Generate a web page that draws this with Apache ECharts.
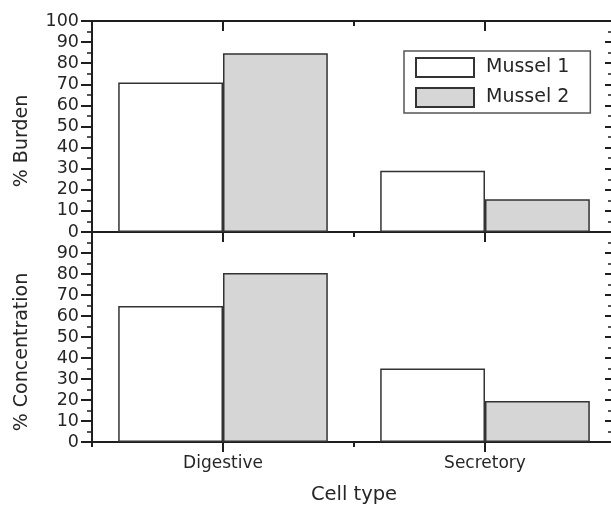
<!DOCTYPE html>
<html>
<head>
<meta charset="utf-8">
<script src="https://cdn.jsdelivr.net/npm/echarts@6/dist/echarts.min.js"></script>
<style>html,body{margin:0;padding:0;background:#fff;overflow:hidden;}#c{width:620px;height:506px;}</style>
</head>
<body>
<div id="c"></div>
<script>
const categories = ['Digestive', 'Secretory'];
const seriesNames = ['Mussel 1', 'Mussel 2'];
const burdenMussel1 = [70.8, 29.0];
const burdenMussel2 = [84.7, 15.5];
const concMussel1 = [64.8, 35.0];
const concMussel2 = [80.5, 19.5];
const yMin = 0, yMax = 100, yStep = 10;
const xTitle = 'Cell type';
const yTitleTop = '% Burden';
const yTitleBottom = '% Concentration';

const FONT = 'DejaVu Sans';
const INK = '#1e1e1e';
const TXT = '#262626';

const chart = echarts.init(document.getElementById('c'), null, {renderer: 'canvas'});

function xAxis(grid, pos, opts) {
  return Object.assign({
    type: 'category', gridIndex: grid, position: pos, data: categories,
    boundaryGap: true,
    axisLine: {show: false, lineStyle: {color: INK, width: 2}},
    axisTick: {show: true, alignWithLabel: true, interval: 0, length: 10, inside: false, lineStyle: {color: INK, width: 2}},
    axisLabel: {show: false},
    splitLine: {show: false}
  }, opts);
}
function yAxis(grid, pos, opts) {
  return Object.assign({
    type: 'value', gridIndex: grid, position: pos, min: yMin, max: yMax, interval: yStep,
    axisLine: {show: true, lineStyle: {color: INK, width: 2}},
    axisTick: {show: true, length: 11, inside: false, lineStyle: {color: INK, width: 2}},
    minorTick: {show: true, splitNumber: 2, length: 5, lineStyle: {color: INK, width: 1.5}},
    axisLabel: {show: false},
    splitLine: {show: false}, minorSplitLine: {show: false}
  }, opts);
}
const labelStyle = {show: true, fontFamily: FONT, fontSize: 17.5, color: TXT};

const option = {
  animation: false,
  backgroundColor: '#fff',
  grid: [
    {left: 92, top: 21, width: 524, height: 211},
    {left: 92, top: 232, width: 524, height: 212}
  ],
  xAxis: [
    xAxis(0, 'bottom', {axisLine: {show: true, lineStyle: {color: INK, width: 2}}}),
    xAxis(0, 'bottom', {axisTick: {show: true, alignWithLabel: false, interval: 0, length: 5, lineStyle: {color: INK, width: 2}}}),
    xAxis(0, 'top', {axisLine: {show: true, lineStyle: {color: INK, width: 2}},
      axisTick: {show: true, alignWithLabel: true, interval: 0, length: 10, inside: true, lineStyle: {color: INK, width: 2}}}),
    xAxis(0, 'top', {axisTick: {show: true, alignWithLabel: false, interval: 0, length: 5, inside: true, lineStyle: {color: INK, width: 2}}}),
    xAxis(1, 'bottom', {axisLine: {show: true, lineStyle: {color: INK, width: 2}},
      axisLabel: Object.assign({margin: 13, interval: 0}, labelStyle, {fontSize: 17}),
      name: xTitle, nameLocation: 'middle', nameGap: 43,
      nameTextStyle: {fontFamily: FONT, fontSize: 19.5, color: TXT}}),
    xAxis(1, 'bottom', {axisTick: {show: true, alignWithLabel: false, interval: 0, length: 5, lineStyle: {color: INK, width: 2}}})
  ],
  yAxis: [
    yAxis(0, 'left', {axisLabel: Object.assign({margin: 13}, labelStyle)}),
    yAxis(0, 'right', {axisLine: {show: false},
      axisTick: {show: true, length: 11, inside: true, lineStyle: {color: INK, width: 2}},
      minorTick: {show: true, splitNumber: 2, length: 8, lineStyle: {color: INK, width: 1.5}}}),
    yAxis(1, 'left', {axisLabel: Object.assign({margin: 13, showMaxLabel: false,
      formatter: v => (v === yMax ? '' : String(v))}, labelStyle)}),
    yAxis(1, 'right', {axisLine: {show: false},
      axisTick: {show: true, length: 11, inside: true, lineStyle: {color: INK, width: 2}},
      minorTick: {show: true, splitNumber: 2, length: 8, lineStyle: {color: INK, width: 1.5}}})
  ],
  legend: {
    data: seriesNames, orient: 'vertical', left: 404, top: 51,
    padding: [6, 21, 5, 11], itemGap: 9, itemWidth: 58, itemHeight: 19,
    borderColor: '#555', borderWidth: 1.5, icon: 'rect',
    textStyle: {fontFamily: FONT, fontSize: 19, color: TXT, padding: [0, 0, 0, 7]}
  },
  graphic: [
    {type: 'text', x: 22, y: 141, rotation: Math.PI / 2,
      style: {text: yTitleTop, font: '19px "DejaVu Sans"', fill: TXT, align: 'center', verticalAlign: 'middle'}},
    {type: 'text', x: 22, y: 352, rotation: Math.PI / 2,
      style: {text: yTitleBottom, font: '19px "DejaVu Sans"', fill: TXT, align: 'center', verticalAlign: 'middle'}}
  ],
  series: [
    {name: seriesNames[0], type: 'bar', xAxisIndex: 0, yAxisIndex: 0, data: burdenMussel1,
      barWidth: '40%', barGap: '0%', itemStyle: {color: '#ffffff', borderColor: '#333', borderWidth: 1.5}},
    {name: seriesNames[1], type: 'bar', xAxisIndex: 0, yAxisIndex: 0, data: burdenMussel2,
      barWidth: '40%', barGap: '0%', itemStyle: {color: '#d6d6d6', borderColor: '#333', borderWidth: 1.5}},
    {name: seriesNames[0], type: 'bar', xAxisIndex: 4, yAxisIndex: 2, data: concMussel1,
      barWidth: '40%', barGap: '0%', itemStyle: {color: '#ffffff', borderColor: '#333', borderWidth: 1.5}},
    {name: seriesNames[1], type: 'bar', xAxisIndex: 4, yAxisIndex: 2, data: concMussel2,
      barWidth: '40%', barGap: '0%', itemStyle: {color: '#d6d6d6', borderColor: '#333', borderWidth: 1.5}}
  ]
};
chart.setOption(option);
</script>
</body>
</html>
